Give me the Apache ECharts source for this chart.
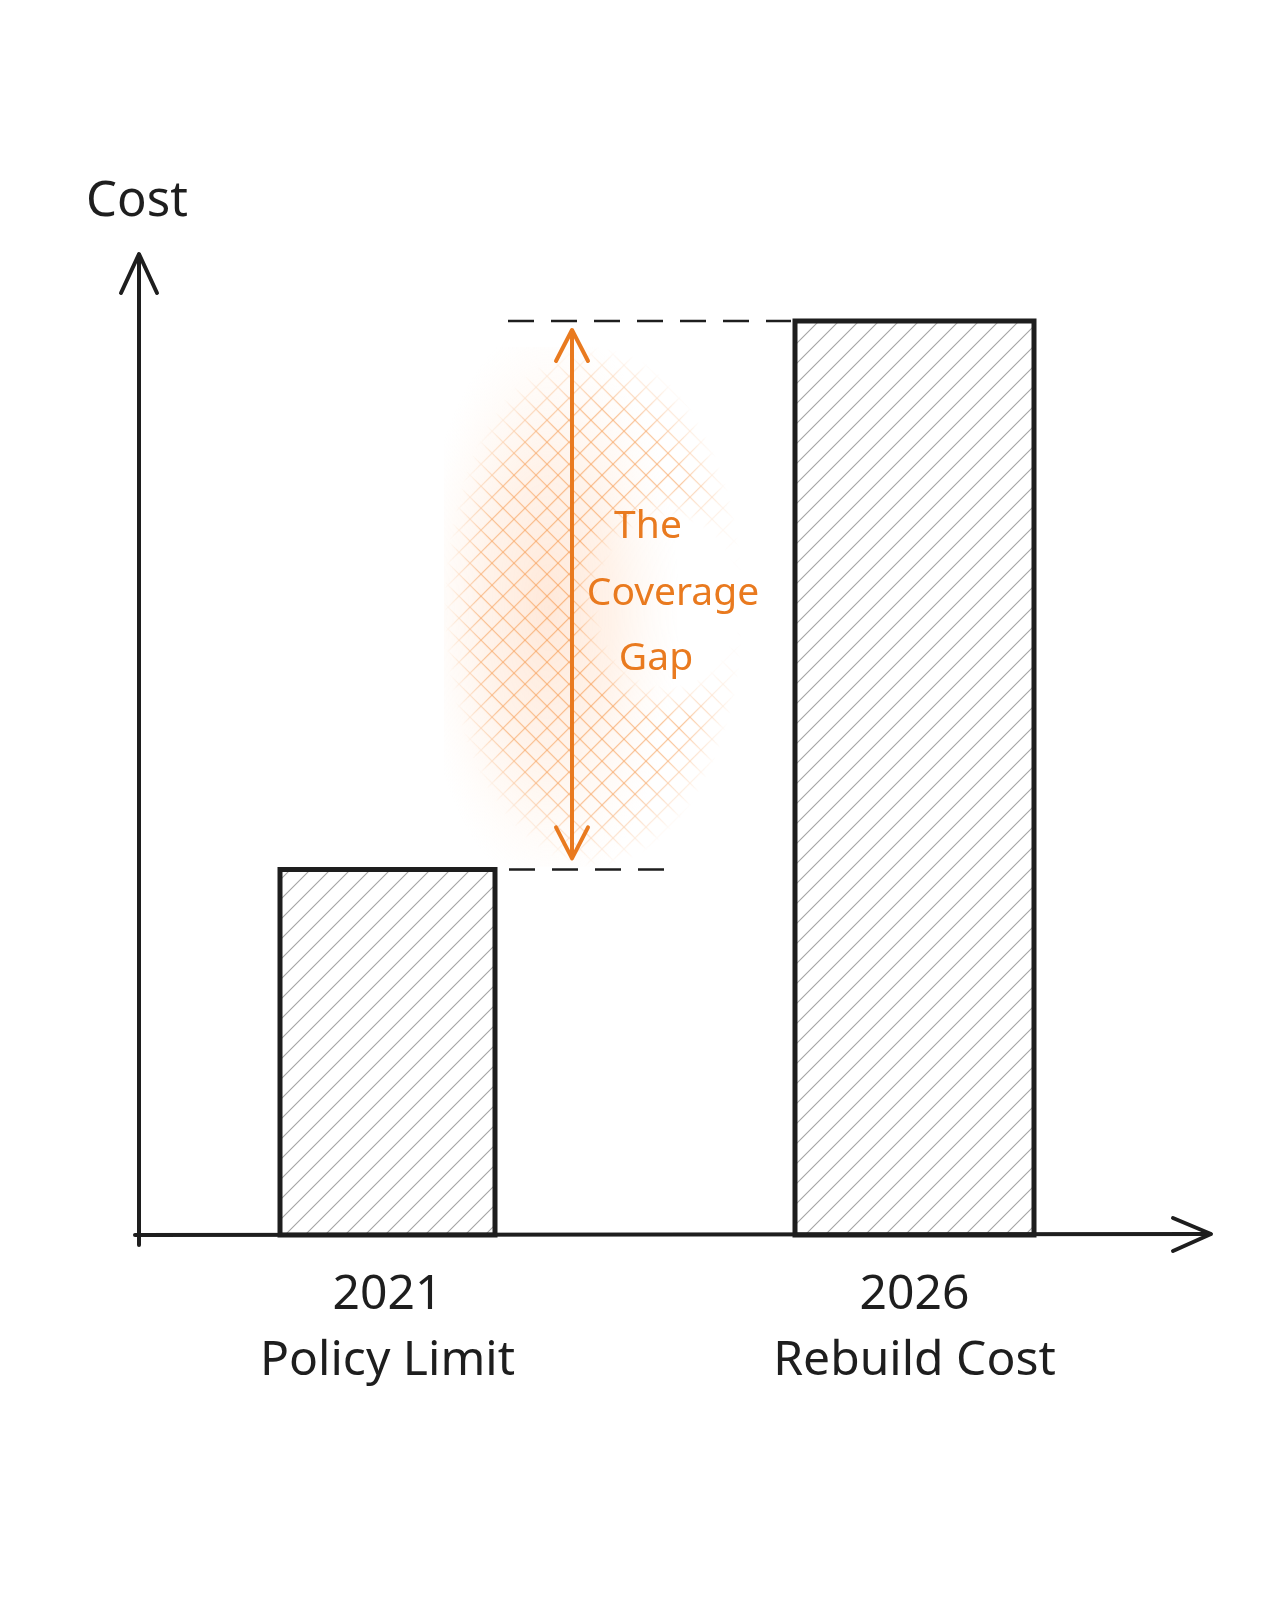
<!DOCTYPE html>
<html>
<head>
<meta charset="utf-8">
<script src="https://cdn.jsdelivr.net/npm/echarts@6/dist/echarts.min.js"></script>
<style>
html,body{margin:0;padding:0;background:#ffffff;}
#chart{width:1280px;height:1600px;}
</style>
</head>
<body>
<div id="chart"></div>
<script>
// ---- data ----
const years = ['2021', '2026'];
const labels = ['Policy Limit', 'Rebuild Cost'];
const costValues = [40, 100];
const gapText = ['The', 'Coverage', 'Gap'];
const yAxisName = 'Cost';
const yMax = 107;

// ---- styles ----
const INK = '#1e1e1e';
const ORANGE = '#E97A1F';
const FONT = '"Noto Sans", "Open Sans", sans-serif';
const BAR_WIDTHS = [215, 239];

function makeHatch() {
  const s = 20;
  const c = document.createElement('canvas');
  c.width = s; c.height = s;
  const g = c.getContext('2d');
  g.strokeStyle = 'rgba(90,90,90,0.55)';
  g.lineWidth = 1.1;
  g.beginPath();
  g.moveTo(-2, s + 2); g.lineTo(s + 2, -2);
  g.moveTo(-2, 2); g.lineTo(2, -2);
  g.moveTo(s - 2, s + 2); g.lineTo(s + 2, s - 2);
  g.stroke();
  return c;
}

function radialFill(g, cx, cy, r, sy, stops, compose) {
  g.save();
  g.globalCompositeOperation = compose;
  g.translate(cx, cy);
  g.scale(1, sy);
  const rg = g.createRadialGradient(0, 0, 0, 0, 0, r);
  stops.forEach(s => rg.addColorStop(s[0], s[1]));
  g.fillStyle = rg;
  g.fillRect(-r, -r, 2 * r, 2 * r);
  g.restore();
}

function makeGlow(w, h) {
  const c = document.createElement('canvas');
  c.width = w; c.height = h;
  const g = c.getContext('2d');
  // cross hatch
  g.strokeStyle = 'rgba(245,145,65,0.85)';
  g.lineWidth = 1.1;
  for (let k = -h; k < w + h; k += 22) {
    g.beginPath(); g.moveTo(k, 0); g.lineTo(k + h, h); g.stroke();
    g.beginPath(); g.moveTo(k, h); g.lineTo(k + h, 0); g.stroke();
  }
  // clear area behind the label text
  radialFill(g, 225, 255, 100, 1.2, [[0, 'rgba(0,0,0,1)'], [0.7, 'rgba(0,0,0,1)'], [1, 'rgba(0,0,0,0)']], 'destination-out');
  // elliptical mask
  radialFill(g, w / 2, h / 2, w / 2, (h / 2) / (w / 2),
    [[0, 'rgba(0,0,0,0.8)'], [0.75, 'rgba(0,0,0,0.68)'], [1, 'rgba(0,0,0,0)']], 'destination-in');
  // soft peach glow beneath
  radialFill(g, 105, h / 2, 130, 2.2,
    [[0, 'rgba(255,180,130,0.3)'], [0.5, 'rgba(255,200,160,0.22)'], [1, 'rgba(255,225,200,0)']], 'destination-over');
  return c;
}

const hatchCanvas = makeHatch();
const chart = echarts.init(document.getElementById('chart'), null, { renderer: 'canvas' });

chart.setOption({
  backgroundColor: '#ffffff',
  animation: false,
  grid: { left: 124, right: 102, top: 257, bottom: 365 },
  xAxis: {
    type: 'category',
    data: years.map((y, i) => y + '\n' + labels[i]),
    boundaryGap: true,
    axisLine: { show: false },
    axisTick: { show: false },
    splitLine: { show: false },
    axisLabel: {
      margin: 27,
      color: INK,
      fontFamily: FONT,
      fontSize: 48,
      lineHeight: 66
    }
  },
  yAxis: {
    type: 'value',
    min: 0,
    max: yMax,
    offset: -13,
    name: yAxisName,
    nameLocation: 'end',
    nameGap: 30,
    nameTextStyle: { color: INK, fontFamily: FONT, fontSize: 49, align: 'center' },
    axisLine: { show: false },
    axisTick: { show: false },
    axisLabel: { show: false },
    splitLine: { show: false }
  },
  series: [{
    type: 'custom',
    data: costValues.map((v, i) => [i, v]),
    renderItem: function (params, api) {
      const i = params.dataIndex;
      const base = api.coord([api.value(0), 0]);
      const top = api.coord([api.value(0), api.value(1)]);
      const w = BAR_WIDTHS[i];
      return {
        type: 'rect',
        shape: { x: base[0] - w / 2, y: top[1], width: w, height: base[1] - top[1] },
        style: {
          fill: { image: hatchCanvas, repeat: 'repeat' },
          stroke: INK,
          lineWidth: 5,
          lineJoin: 'miter'
        }
      };
    }
  }]
});

// ---- decorations positioned through the chart's scales ----
const px = (i, v) => chart.convertToPixel({ xAxisIndex: 0, yAxisIndex: 0 }, [i, v]);
const base = px(0, 0);
const yTop = px(1, costValues[1])[1];
const yLow = px(0, costValues[0])[1];
const bar1Right = px(0, 0)[0] + BAR_WIDTHS[0] / 2;
const bar2Left = px(1, 0)[0] - BAR_WIDTHS[1] / 2;
const axisX = 139;
const baseY = base[1];
const arrowX = bar1Right + 77;
const gridTopY = px(0, yMax)[1];

const glowW = 300, glowH = 520;
const glowCanvas = makeGlow(glowW, glowH);

const lineStyle = { stroke: INK, lineWidth: 4, lineCap: 'round', lineJoin: 'round', fill: null };
const dash = { stroke: INK, lineWidth: 2.5, lineDash: [26, 17], fill: null };
const orangeLine = { stroke: ORANGE, lineWidth: 4, lineCap: 'round', lineJoin: 'round', fill: null };

const graphics = [
  { type: 'image', z: 1, style: { image: glowCanvas, x: arrowX - 128, y: (yTop + yLow) / 2 - glowH / 2 + 12, width: glowW, height: glowH } },
  // y axis
  { type: 'polyline', z: 10, shape: { points: [[axisX, baseY + 10], [axisX, gridTopY - 2]] }, style: lineStyle },
  { type: 'polyline', z: 10, shape: { points: [[axisX - 18, gridTopY + 36], [axisX, gridTopY - 3], [axisX + 18, gridTopY + 36]] }, style: lineStyle },
  // x axis
  { type: 'polyline', z: 10, shape: { points: [[axisX - 4, baseY], [1210, baseY - 1]] }, style: lineStyle },
  { type: 'polyline', z: 10, shape: { points: [[1173, baseY - 17], [1211, baseY - 1], [1173, baseY + 16]] }, style: lineStyle },
  // dashed guide lines
  { type: 'line', z: 5, shape: { x1: arrowX - 64, y1: yTop, x2: bar2Left - 4, y2: yTop }, style: dash },
  { type: 'line', z: 5, shape: { x1: bar1Right + 14, y1: yLow, x2: bar1Right + 180, y2: yLow }, style: dash },
  // orange double arrow
  { type: 'polyline', z: 6, shape: { points: [[arrowX, yTop + 10], [arrowX, yLow - 12]] }, style: orangeLine },
  { type: 'polyline', z: 6, shape: { points: [[arrowX - 16, yTop + 40], [arrowX, yTop + 9], [arrowX + 16, yTop + 40]] }, style: orangeLine },
  { type: 'polyline', z: 6, shape: { points: [[arrowX - 16, yLow - 42], [arrowX, yLow - 11], [arrowX + 16, yLow - 42]] }, style: orangeLine }
];

const textCenters = [[arrowX + 76, 0], [arrowX + 101, 67], [arrowX + 84, 132]];
const textBaseY = yTop + 225;
gapText.forEach((t, i) => {
  graphics.push({
    type: 'text', z: 7,
    style: {
      text: t, x: textCenters[i][0], y: textBaseY + textCenters[i][1],
      fill: ORANGE, font: '39px ' + FONT, textAlign: 'center', textVerticalAlign: 'bottom'
    }
  });
});

chart.setOption({ graphic: graphics });
</script>
</body>
</html>
